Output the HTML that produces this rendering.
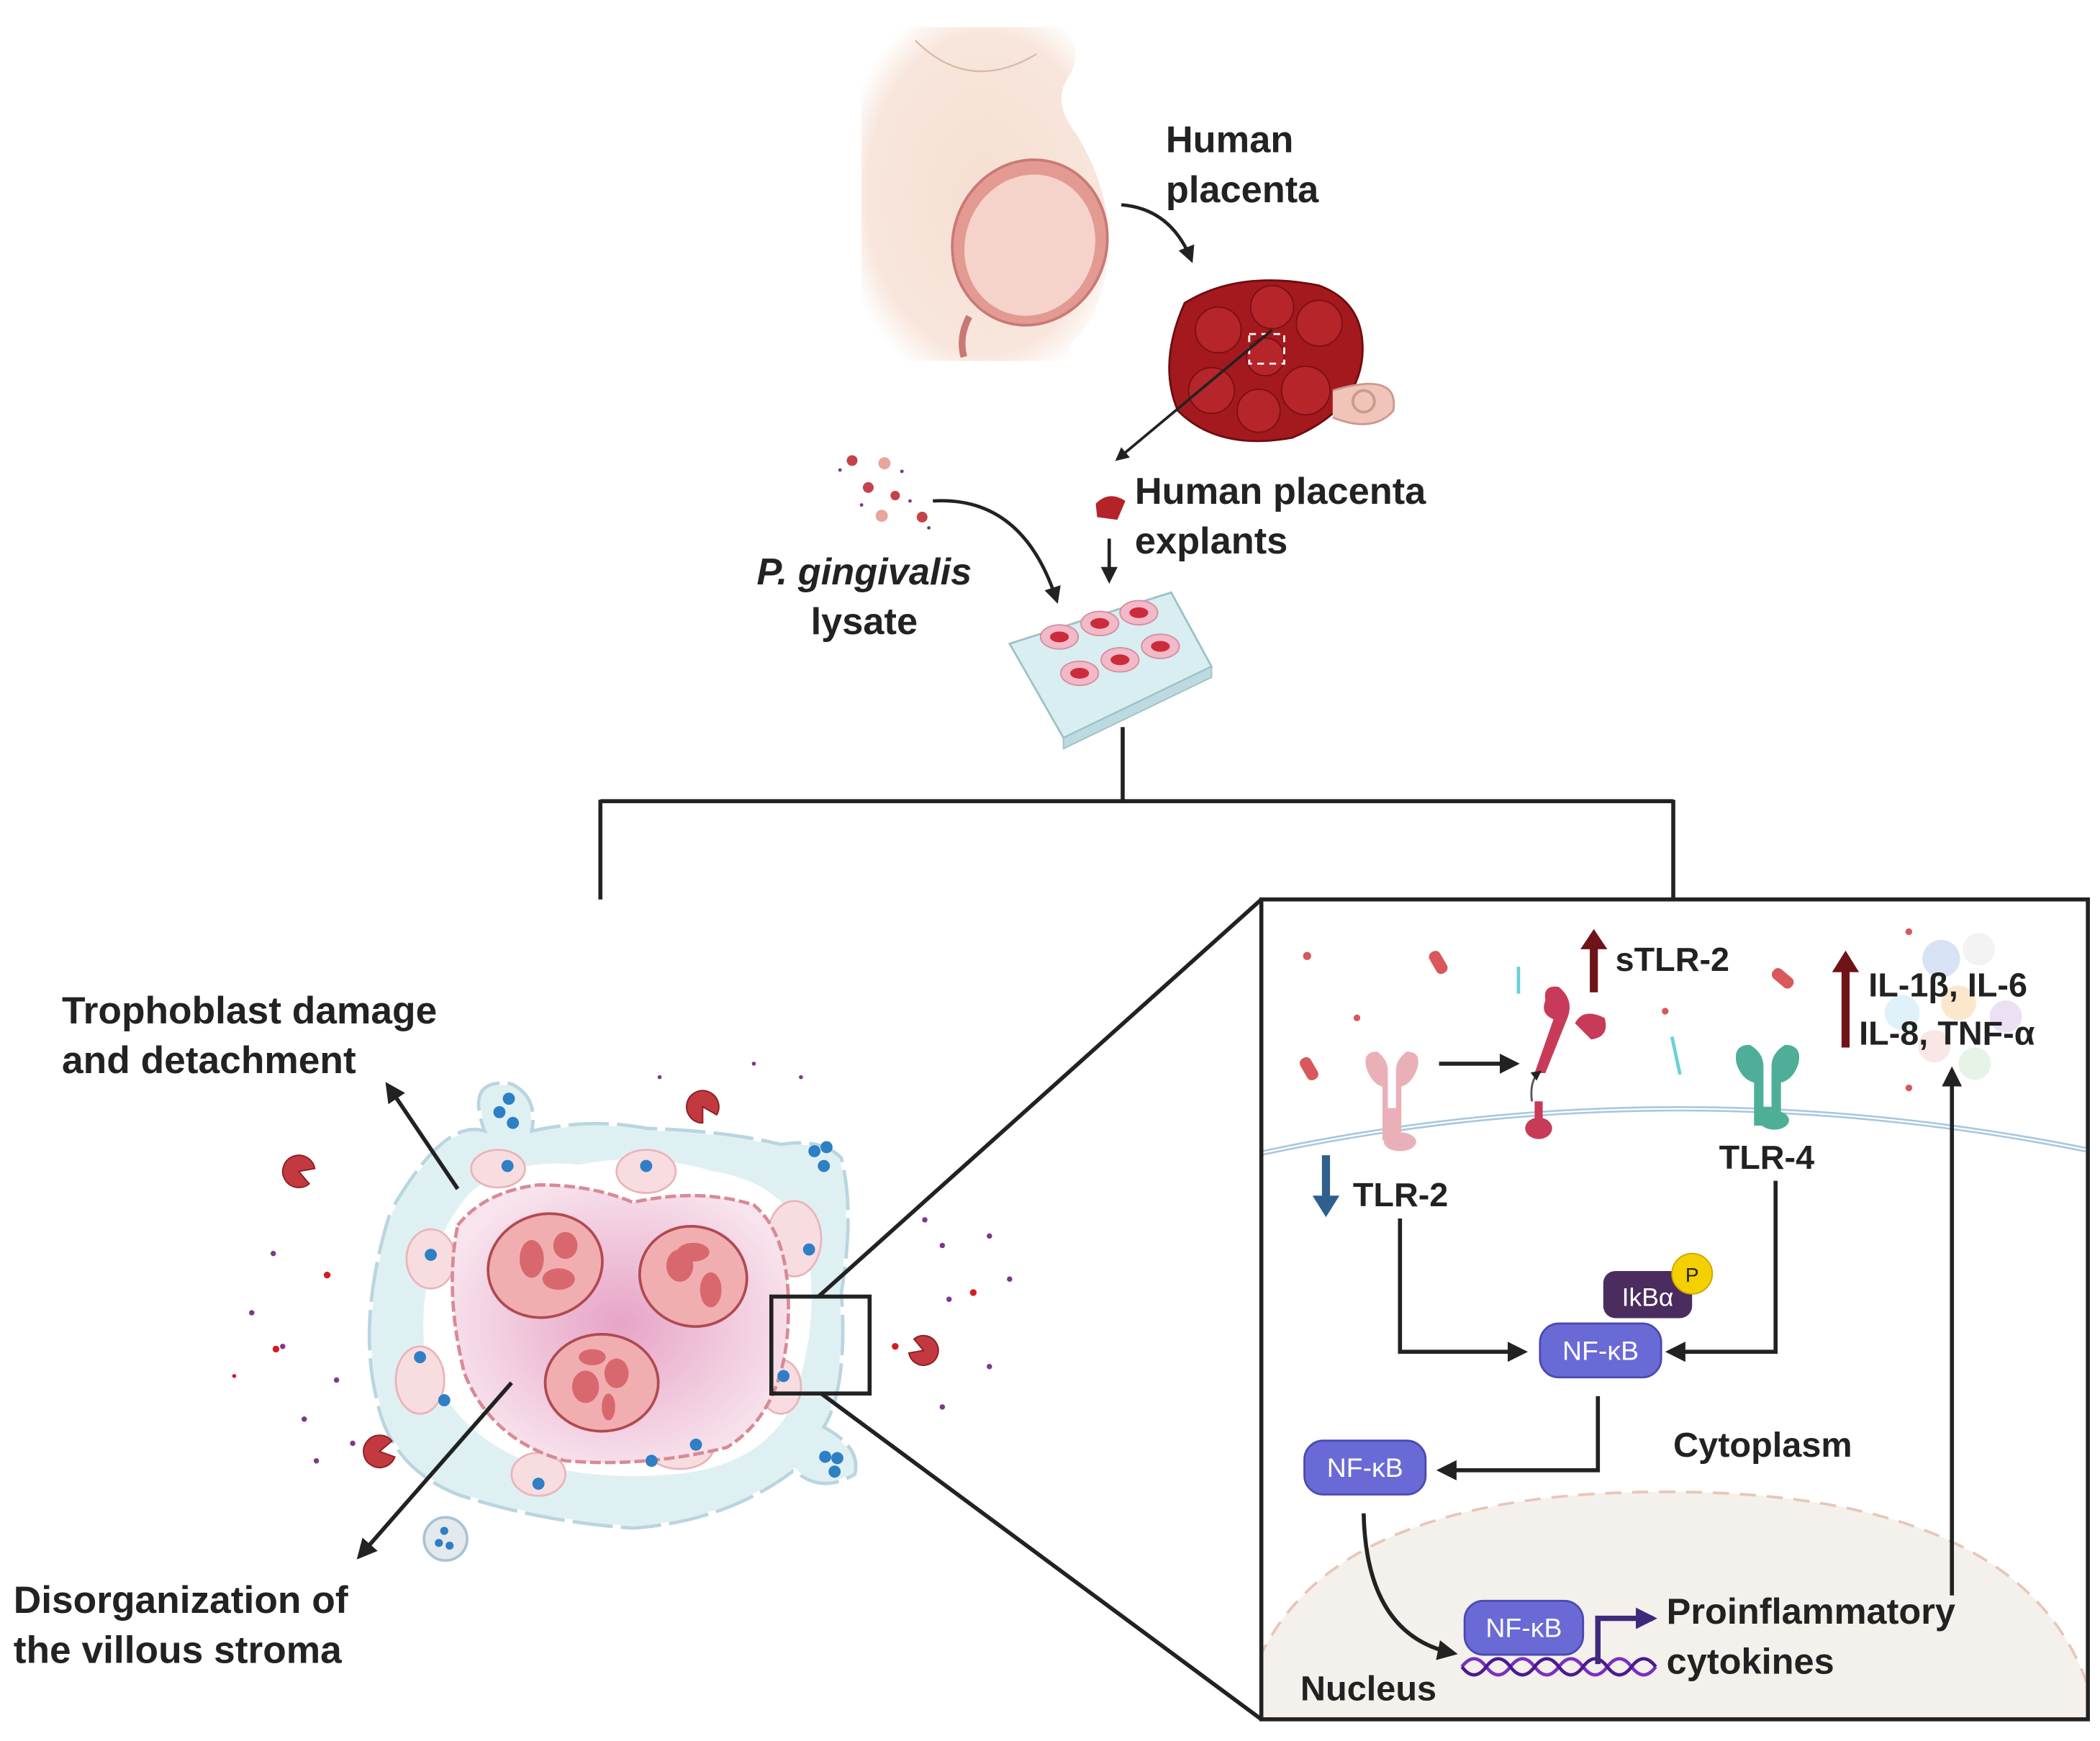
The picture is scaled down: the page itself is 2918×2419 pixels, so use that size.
<!DOCTYPE html>
<html><head><meta charset="utf-8"><style>
html,body{margin:0;padding:0;background:#fff}
svg{display:block}
text{font-family:"Liberation Sans",sans-serif;font-weight:bold;fill:#222}
</style></head><body>
<svg width="2918" height="2419" viewBox="0 0 1560 1293" xmlns="http://www.w3.org/2000/svg">
<defs>
<marker id="ah" viewBox="0 0 10 10" refX="8" refY="5" markerWidth="5" markerHeight="5" orient="auto-start-reverse"><path d="M0,0L10,5L0,10z" fill="#222"/></marker>
<marker id="ahp" viewBox="0 0 10 10" refX="8" refY="5" markerWidth="4" markerHeight="4" orient="auto"><path d="M0,0L10,5L0,10z" fill="#3d2a7a"/></marker>
<radialGradient id="skin" cx="0.5" cy="0.5" r="0.6"><stop offset="0" stop-color="#f6dfd2"/><stop offset="0.8" stop-color="#f8e6dc"/><stop offset="1" stop-color="#fff"/></radialGradient>
<radialGradient id="core" cx="0.5" cy="0.5" r="0.55"><stop offset="0" stop-color="#e7a4c6"/><stop offset="1" stop-color="#f8e4ee"/></radialGradient>
</defs>

<!-- pregnant woman -->
<path d="M640,20 L790,20 Q805,35 795,55 Q780,75 800,100 Q830,150 822,200 Q815,240 795,255 L795,268 L640,268 Z" fill="url(#skin)"/>
<path d="M680,30 Q720,70 770,40" fill="none" stroke="#d9b9a8" stroke-width="1.2"/>
<ellipse cx="765" cy="180" rx="57" ry="62" transform="rotate(20 765 180)" fill="#e39a92" stroke="#c97975" stroke-width="2"/>
<ellipse cx="765" cy="182" rx="48" ry="53" transform="rotate(20 765 182)" fill="#f6d3ca"/>
<path d="M720,235 Q712,250 716,265" stroke="#c97975" stroke-width="5" fill="none"/>

<!-- Human placenta text -->
<text x="866" y="113" font-size="28">Human</text>
<text x="866" y="150" font-size="28">placenta</text>
<path d="M833,152 Q870,155 885,193" fill="none" stroke="#222" stroke-width="2.5" marker-end="url(#ah)"/>

<!-- placenta -->
<path d="M880,225 Q920,200 980,212 Q1015,225 1012,265 Q1008,305 960,325 Q905,335 875,305 Q860,270 880,225Z" fill="#a4191e" stroke="#6e0c10" stroke-width="1.5"/>
<g fill="#b5252a" stroke="#7a1013" stroke-width="1">
<circle cx="905" cy="245" r="17"/><circle cx="945" cy="228" r="16"/><circle cx="980" cy="240" r="17"/><circle cx="900" cy="290" r="17"/><circle cx="970" cy="290" r="18"/><circle cx="935" cy="305" r="16"/><circle cx="940" cy="265" r="14"/></g>
<rect x="928" y="248" width="26" height="22" fill="none" stroke="#fff" stroke-width="1.5" stroke-dasharray="5 4"/>
<path d="M990,290 Q1040,275 1035,305 Q1020,322 990,310" fill="#f0c4b8" stroke="#c99a8e" stroke-width="1.5"/>
<circle cx="1013" cy="298" r="8" fill="none" stroke="#c99a8e" stroke-width="2"/>
<line x1="945" y1="245" x2="830" y2="341" stroke="#222" stroke-width="2" marker-end="url(#ah)"/>

<!-- explant -->
<path d="M814,374 Q824,364 836,372 L830,386 L815,384Z" fill="#b4232a"/>
<text x="843" y="374" font-size="28">Human placenta</text>
<text x="843" y="411" font-size="28">explants</text>
<line x1="824" y1="400" x2="824" y2="431" stroke="#222" stroke-width="2.5" marker-end="url(#ah)"/>

<!-- P. gingivalis dots -->
<g fill="#c4434a"><circle cx="633" cy="342" r="4"/><circle cx="645" cy="362" r="4"/><circle cx="665" cy="368" r="3.5"/><circle cx="685" cy="384" r="4"/></g>
<g fill="#e8a59b"><circle cx="657" cy="344" r="4.5"/><circle cx="655" cy="383" r="4.5"/></g>
<g fill="#7a3a8a"><circle cx="624" cy="349" r="1.3"/><circle cx="670" cy="350" r="1.3"/><circle cx="640" cy="375" r="1.3"/><circle cx="676" cy="372" r="1.3"/><circle cx="690" cy="392" r="1.3"/></g>
<path d="M693,372 Q760,368 785,446" fill="none" stroke="#222" stroke-width="2.5" marker-end="url(#ah)"/>
<text x="642" y="434" font-size="28" text-anchor="middle" font-style="italic">P. gingivalis</text>
<text x="642" y="471" font-size="28" text-anchor="middle">lysate</text>

<!-- well plate -->
<path d="M750,478 L870,440 L900,495 L790,548 Z" fill="#d8eef0" stroke="#9cc2c8" stroke-width="1.5"/>
<path d="M790,548 L900,495 L900,503 L790,556 Z" fill="#bcdadf" stroke="#9cc2c8" stroke-width="1"/>
<g fill="#f2b9c8" stroke="#d88da0" stroke-width="1">
<ellipse cx="787" cy="473" rx="14" ry="9"/><ellipse cx="817" cy="463" rx="14" ry="9"/><ellipse cx="846" cy="455" rx="14" ry="9"/>
<ellipse cx="802" cy="500" rx="14" ry="9"/><ellipse cx="832" cy="490" rx="14" ry="9"/><ellipse cx="862" cy="480" rx="14" ry="9"/></g>
<g fill="#cc2b3c"><ellipse cx="787" cy="473" rx="7" ry="4"/><ellipse cx="817" cy="463" rx="7" ry="4"/><ellipse cx="846" cy="455" rx="7" ry="4"/><ellipse cx="802" cy="500" rx="7" ry="4"/><ellipse cx="832" cy="490" rx="7" ry="4"/><ellipse cx="862" cy="480" rx="7" ry="4"/></g>

<!-- tree connectors -->
<path d="M834,540 V595 M446,595 H1243 M446,594 V668 M1243,594 V668" stroke="#222" stroke-width="3" fill="none"/>

<!-- villous -->
<path d="M290,900 Q330,830 360,840 Q345,800 380,805 Q400,815 395,840 Q440,830 480,838 Q540,840 580,850 Q610,845 625,860 Q635,900 625,960 Q630,1030 612,1060 Q640,1075 635,1095 Q610,1110 590,1092 Q540,1130 470,1135 Q400,1130 340,1110 Q290,1090 280,1040 Q265,980 290,900Z" fill="#dff0f3" stroke="#b9d5e0" stroke-width="2.5"/>
<path d="M290,900 Q330,830 360,840 Q345,800 380,805 Q400,815 395,840 Q440,830 480,838 Q540,840 580,850 Q610,845 625,860 Q635,900 625,960 Q630,1030 612,1060 Q640,1075 635,1095 Q610,1110 590,1092 Q540,1130 470,1135 Q400,1130 340,1110 Q290,1090 280,1040 Q265,980 290,900Z" fill="none" stroke="#fff" stroke-width="3" stroke-dasharray="6 30"/>
<path d="M350,885 Q380,860 430,865 Q480,855 530,870 Q590,880 600,930 Q610,990 585,1050 Q560,1090 500,1095 Q440,1100 390,1085 Q330,1060 315,1000 Q310,930 350,885Z" fill="#fff"/>
<g fill="#f8dde0" stroke="#eab4bb" stroke-width="1.5">
<ellipse cx="480" cy="870" rx="22" ry="16"/><ellipse cx="320" cy="935" rx="18" ry="22"/><ellipse cx="312" cy="1025" rx="18" ry="25"/><ellipse cx="400" cy="1095" rx="20" ry="16"/><ellipse cx="505" cy="1075" rx="25" ry="16"/><ellipse cx="590" cy="920" rx="20" ry="28"/><ellipse cx="580" cy="1030" rx="15" ry="20"/><ellipse cx="370" cy="868" rx="20" ry="14"/></g>
<path d="M340,910 Q360,885 400,880 Q440,880 470,893 Q520,882 560,895 Q590,920 585,990 Q580,1050 540,1075 Q480,1090 420,1085 Q365,1070 345,1020 Q330,960 340,910Z" fill="url(#core)" stroke="#d88a94" stroke-width="2.5" stroke-dasharray="8 3"/>
<g fill="#f1aeb0" stroke="#b04a52" stroke-width="2">
<ellipse cx="405" cy="940" rx="43" ry="38" transform="rotate(-20 405 940)"/><ellipse cx="515" cy="948" rx="40" ry="37" transform="rotate(15 515 948)"/><ellipse cx="447" cy="1027" rx="42" ry="36"/></g>
<g fill="#d9686e"><ellipse cx="395" cy="935" rx="9" ry="14"/><ellipse cx="415" cy="950" rx="12" ry="8"/><ellipse cx="420" cy="925" rx="9" ry="10"/><ellipse cx="505" cy="940" rx="10" ry="12"/><ellipse cx="528" cy="958" rx="8" ry="13"/><ellipse cx="515" cy="930" rx="12" ry="7"/><ellipse cx="435" cy="1030" rx="10" ry="12"/><ellipse cx="458" cy="1020" rx="9" ry="11"/><ellipse cx="452" cy="1045" rx="5" ry="10"/><ellipse cx="440" cy="1008" rx="10" ry="6"/></g>
<g fill="#2e7fc4"><circle cx="378" cy="816" r="4.5"/><circle cx="371" cy="826" r="4.5"/><circle cx="381" cy="834" r="4.5"/><circle cx="605" cy="855" r="4.5"/><circle cx="614" cy="852" r="4.5"/><circle cx="612" cy="866" r="4.5"/><circle cx="480" cy="866" r="4.5"/><circle cx="377" cy="866" r="4.5"/><circle cx="320" cy="932" r="4.5"/><circle cx="312" cy="1008" r="4.5"/><circle cx="330" cy="1040" r="4.5"/><circle cx="400" cy="1102" r="4.5"/><circle cx="484" cy="1085" r="4.5"/><circle cx="517" cy="1073" r="4.5"/><circle cx="601" cy="928" r="4.5"/><circle cx="582" cy="1022" r="4.5"/><circle cx="613" cy="1082" r="4.5"/><circle cx="622" cy="1083" r="4.5"/><circle cx="620" cy="1093" r="4.5"/></g>
<circle cx="331" cy="1143" r="16" fill="#e4e9ee" stroke="#a8c4d6" stroke-width="2"/>
<g fill="#2e7fc4"><circle cx="330" cy="1137" r="3"/><circle cx="326" cy="1146" r="3"/><circle cx="334" cy="1148" r="3"/></g>
<g fill="#c2393f" stroke="#8a1f25" stroke-width="1">
<path d="M222,870 L232.4,864 A12,12 0 1,0 232.4,876 Z" transform="rotate(20 222 870)"/>
<path d="M522,822 L532.4,816 A12,12 0 1,0 532.4,828 Z" transform="rotate(60 522 822)"/>
<path d="M282,1078 L292.4,1072 A12,12 0 1,0 292.4,1084 Z" transform="rotate(-10 282 1078)"/>
<path d="M686,1003 L695.5,997.5 A11,11 0 1,0 695.5,1008.5 Z" transform="rotate(200 686 1003)"/>
</g>
<g fill="#7a3a8a"><circle cx="203" cy="931" r="2"/><circle cx="187" cy="975" r="2"/><circle cx="210" cy="1000" r="2"/><circle cx="226" cy="1054" r="2"/><circle cx="235" cy="1085" r="2"/><circle cx="262" cy="1072" r="2"/><circle cx="250" cy="1025" r="2"/><circle cx="687" cy="906" r="2"/><circle cx="700" cy="925" r="2"/><circle cx="705" cy="965" r="2"/><circle cx="735" cy="1015" r="2"/><circle cx="700" cy="1045" r="2"/><circle cx="735" cy="918" r="2"/><circle cx="750" cy="950" r="2"/><circle cx="490" cy="800" r="1.5"/><circle cx="560" cy="790" r="1.5"/><circle cx="595" cy="800" r="1.5"/></g>
<g fill="#d21c24"><circle cx="243" cy="947" r="2.5"/><circle cx="205" cy="1002" r="2.5"/><circle cx="174" cy="1022" r="1.5"/><circle cx="723" cy="960" r="2.5"/><circle cx="665" cy="1000" r="2.5"/></g>

<text x="46" y="760" font-size="28.5">Trophoblast damage</text>
<text x="46" y="797" font-size="28.5">and detachment</text>
<line x1="340" y1="883" x2="288" y2="806" stroke="#222" stroke-width="3" marker-end="url(#ah)"/>
<text x="10" y="1198" font-size="28.5">Disorganization of</text>
<text x="10" y="1235" font-size="28.5">the villous stroma</text>
<line x1="380" y1="1027" x2="267" y2="1156" stroke="#222" stroke-width="3" marker-end="url(#ah)"/>

<!-- zoom square and lines -->
<rect x="573" y="963" width="73" height="72" fill="none" stroke="#222" stroke-width="3"/>
<line x1="608" y1="963" x2="937" y2="668" stroke="#222" stroke-width="3"/>
<line x1="610" y1="1035" x2="937" y2="1277" stroke="#222" stroke-width="3"/>

<!-- right box -->
<rect x="937" y="668" width="614" height="609" fill="#fff" stroke="#222" stroke-width="3"/>
<clipPath id="bx"><rect x="938.5" y="669.5" width="611" height="606"/></clipPath>
<g clip-path="url(#bx)">
<path d="M920,1290 Q940,1108 1237,1108 Q1534,1108 1560,1290Z" fill="#f4f0eb" stroke="#e8c6b8" stroke-width="2" stroke-dasharray="12 8"/>
<path d="M930,858 Q1240,790 1560,856" fill="none" stroke="#a8c8de" stroke-width="4"/>
<path d="M930,858 Q1240,790 1560,856" fill="none" stroke="#fff" stroke-width="1.2"/>
</g>
<!-- receptors -->
<g fill="#eab0b8"><path d="M1015,793 q-3,-12 8,-12 q8,6 8,14 v28 h6 v-28 q0,-8 8,-14 q11,0 8,12 q-4,12 -12,14 v40 h-14 v-40 q-8,-2 -12,-14z"/><ellipse cx="1040" cy="848" rx="12" ry="7"/></g>
<g fill="#c83b58"><path d="M1148,743 q-2,-12 10,-10 q12,10 6,24 l-16,40 h-8 l14,-40 q-10,-4 -6,-14z"/><path d="M1170,760 q6,-12 22,-4 q4,14 -10,16z"/><ellipse cx="1143" cy="838" rx="10" ry="8"/><rect x="1140" y="818" width="6" height="14"/></g>
<g fill="#4fae98"><path d="M1290,790 q-3,-14 10,-14 q10,6 10,16 v30 h6 v-30 q0,-10 10,-16 q13,0 10,14 q-4,12 -13,14 v32 h-20 v-32 q-9,-2 -13,-14z"/><ellipse cx="1318" cy="832" rx="11" ry="7"/></g>
<g fill="#d8585c"><rect x="968" y="785" width="9" height="18" rx="4" transform="rotate(-30 972 794)"/><rect x="1064" y="706" width="9" height="18" rx="4" transform="rotate(-30 1068 715)"/><rect x="1320" y="718" width="9" height="18" rx="4" transform="rotate(-50 1324 727)"/><circle cx="971" cy="710" r="3"/><circle cx="1008" cy="756" r="2.5"/><circle cx="1237" cy="751" r="2.5"/><circle cx="1418" cy="692" r="2.5"/><circle cx="1418" cy="808" r="2.5"/></g>
<g opacity="0.35"><circle cx="1442" cy="712" r="14" fill="#8fb0e0"/><circle cx="1470" cy="705" r="12" fill="#ddd"/><circle cx="1413" cy="752" r="13" fill="#a8d8f0"/><circle cx="1455" cy="745" r="13" fill="#f4c070"/><circle cx="1490" cy="755" r="12" fill="#c8a8e0"/><circle cx="1437" cy="777" r="12" fill="#f0b8b8"/><circle cx="1467" cy="790" r="12" fill="#b8e0c0"/></g>
<line x1="1128" y1="718" x2="1128" y2="738" stroke="#6ad0d8" stroke-width="2.5"/>
<line x1="1242" y1="770" x2="1248" y2="798" stroke="#6ad0d8" stroke-width="2.5"/>
<line x1="1069" y1="790" x2="1126" y2="790" stroke="#222" stroke-width="3" marker-end="url(#ah)"/>
<path d="M1138,818 Q1136,802 1144,796" fill="none" stroke="#555" stroke-width="1.5" marker-end="url(#ah)"/>

<!-- up/down arrows -->
<path d="M1184,737 V702" stroke="#6e1418" stroke-width="6"/><path d="M1174,705 L1184,690 L1194,705Z" fill="#6e1418"/>
<text x="1200" y="721" font-size="25">sTLR-2</text>
<path d="M1371,778 V718" stroke="#6e1418" stroke-width="6"/><path d="M1361,722 L1371,706 L1381,722Z" fill="#6e1418"/>
<text x="1388" y="740" font-size="25">IL-1β, IL-6</text>
<text x="1381" y="776" font-size="25">IL-8, TNF-α</text>
<path d="M985,858 V892" stroke="#2f5f8e" stroke-width="6"/><path d="M975,888 L985,904 L995,888Z" fill="#2f5f8e"/>
<text x="1005" y="896" font-size="25">TLR-2</text>
<text x="1277" y="868" font-size="25">TLR-4</text>

<!-- pathway -->
<path d="M1040,905 V1004 H1132" fill="none" stroke="#222" stroke-width="3" marker-end="url(#ah)"/>
<path d="M1319,877 V1004 H1240" fill="none" stroke="#222" stroke-width="3" marker-end="url(#ah)"/>
<rect x="1191" y="944" width="66" height="35" rx="9" fill="#4a2c5e"/>
<text x="1224" y="970" font-size="19" text-anchor="middle" style="fill:#fff;font-weight:normal">IkBα</text>
<circle cx="1257" cy="946" r="15" fill="#f5d000" stroke="#c8a800" stroke-width="1"/>
<text x="1257" y="952" font-size="15" text-anchor="middle" style="font-weight:normal">P</text>
<rect x="1144" y="983" width="90" height="40" rx="14" fill="#6a6ad6" stroke="#4a4ab0" stroke-width="1.5"/>
<text x="1189" y="1010" font-size="20" text-anchor="middle" style="fill:#fff;font-weight:normal">NF-κB</text>
<path d="M1187,1037 V1092 H1070" fill="none" stroke="#222" stroke-width="3" marker-end="url(#ah)"/>
<rect x="969" y="1070" width="90" height="40" rx="14" fill="#6a6ad6" stroke="#4a4ab0" stroke-width="1.5"/>
<text x="1014" y="1097" font-size="20" text-anchor="middle" style="fill:#fff;font-weight:normal">NF-κB</text>
<text x="1243" y="1082" font-size="26">Cytoplasm</text>
<path d="M1013,1124 Q1015,1215 1080,1228" fill="none" stroke="#222" stroke-width="3" marker-end="url(#ah)"/>
<path d="M1086,1238 q9,-12 18,0 t18,0 t18,0 t18,0 t18,0 t18,0 t18,0 t18,0" fill="none" stroke="#7a30c0" stroke-width="2.5"/>
<path d="M1086,1238 q9,12 18,0 t18,0 t18,0 t18,0 t18,0 t18,0 t18,0 t18,0" fill="none" stroke="#4a1a90" stroke-width="2.5"/>
<rect x="1088" y="1189" width="88" height="40" rx="14" fill="#6a6ad6" stroke="#4a4ab0" stroke-width="1.5"/>
<text x="1132" y="1216" font-size="20" text-anchor="middle" style="fill:#fff;font-weight:normal">NF-κB</text>
<path d="M1187,1236 V1202 H1228" fill="none" stroke="#3d2a7a" stroke-width="4" marker-end="url(#ahp)"/>
<text x="1238" y="1206" font-size="27">Proinflammatory</text>
<text x="1238" y="1243" font-size="27">cytokines</text>
<text x="966" y="1263" font-size="26">Nucleus</text>
<line x1="1450" y1="1185" x2="1450" y2="795" stroke="#222" stroke-width="3" marker-end="url(#ah)"/>
</svg>
</body></html>
